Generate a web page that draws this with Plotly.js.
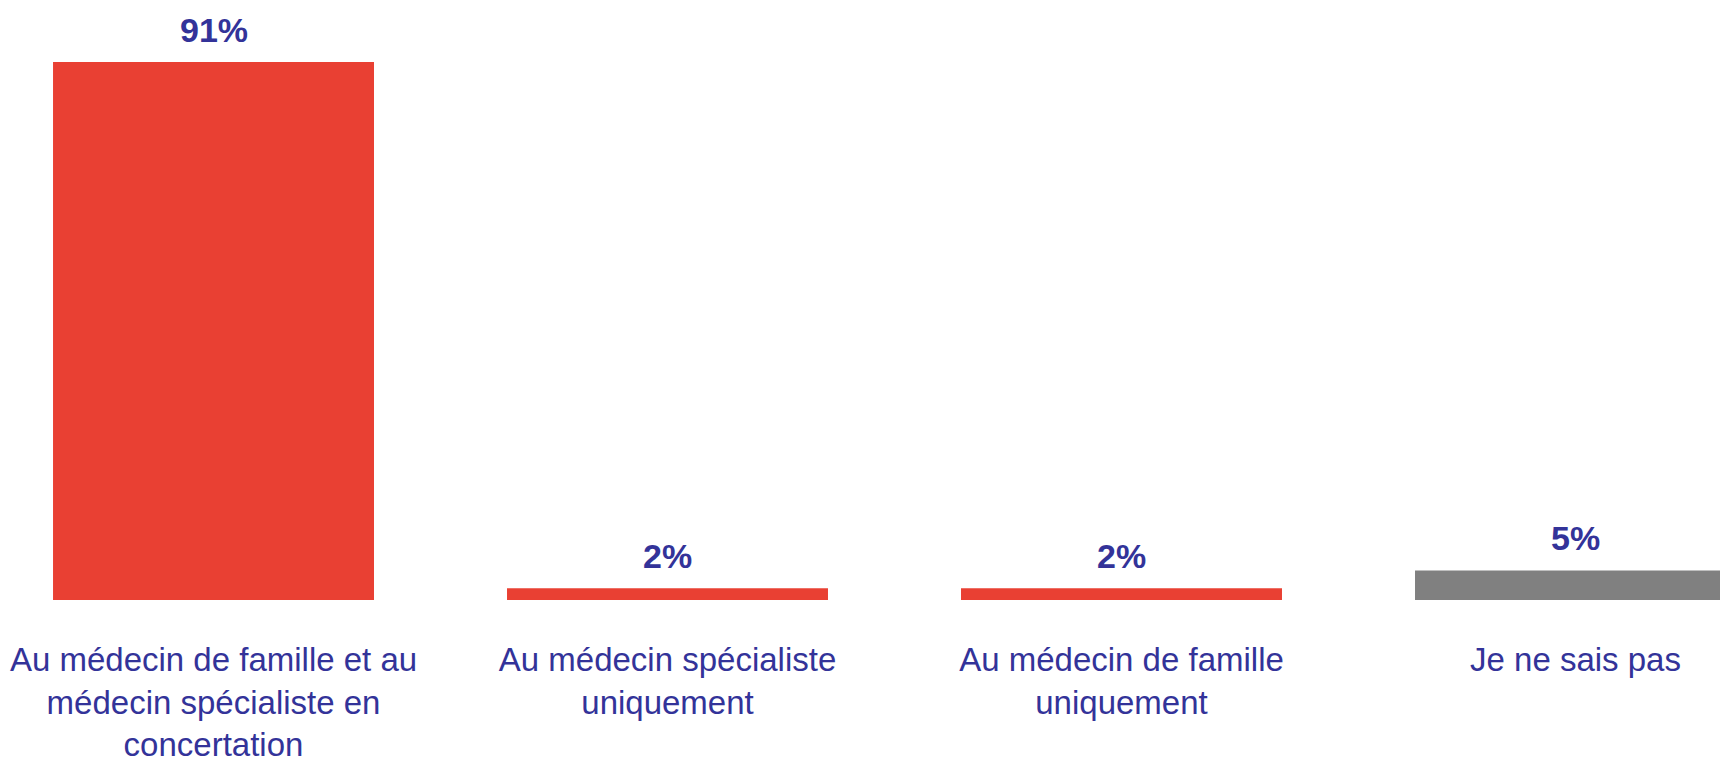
<!DOCTYPE html>
<html>
<head>
<meta charset="utf-8">
<script src="https://cdn.plot.ly/plotly-3.0.1.min.js"></script>
<style>html,body{margin:0;padding:0;background:#fff;}#chart{width:1720px;height:768px;}</style>
</head>
<body>
<div id="chart"></div>
<script>
const categories = [
  "Au médecin de famille et au médecin spécialiste en concertation",
  "Au médecin spécialiste uniquement",
  "Au médecin de famille uniquement",
  "Je ne sais pas"
];
const tickLabels = [
  "Au médecin de famille et au<br>médecin spécialiste en<br>concertation",
  "Au médecin spécialiste<br>uniquement",
  "Au médecin de famille<br>uniquement",
  "Je ne sais pas"
];
const values = [91, 2, 2, 5];
const barColors = ["#E94033", "#E94033", "#E94033", "#808080"];

const textColor = "#333399";

const trace = {
  type: "bar",
  x: [0, 1, 2, 3],
  y: values,
  marker: { color: barColors, line: { width: 0 } },
  hoverinfo: "skip"
};

const annotations = values.map((v, i) => ({
  x: i, y: v, xref: "x", yref: "y",
  text: "<b>" + v + "%</b>",
  showarrow: false,
  yanchor: "bottom",
  yshift: 11,
  font: { family: "Liberation Sans, Arial, sans-serif", size: 34, color: textColor }
}));

const layout = {
  width: 1720, height: 768,
  margin: { l: 0, r: 0, t: 0, b: 168, pad: 0 },
  paper_bgcolor: "#ffffff",
  plot_bgcolor: "#ffffff",
  showlegend: false,
  bargap: 0.293,
  xaxis: {
    range: [-0.4703, 3.3183],
    tickmode: "array",
    tickvals: [0, 1, 2, 3],
    ticktext: tickLabels,
    ticks: "outside",
    ticklen: 30,
    tickcolor: "rgba(0,0,0,0)",
    ticklabeloverflow: "allow",
    showline: false, zeroline: false, showgrid: false,
    tickfont: { family: "Liberation Sans, Arial, sans-serif", size: 33, color: textColor },
    fixedrange: true
  },
  yaxis: {
    range: [0, 101.5],
    showticklabels: false, showgrid: false, zeroline: false, showline: false,
    fixedrange: true
  },
  annotations: annotations
};

Plotly.newPlot("chart", [trace], layout, { displayModeBar: false, staticPlot: true });
</script>
</body>
</html>
